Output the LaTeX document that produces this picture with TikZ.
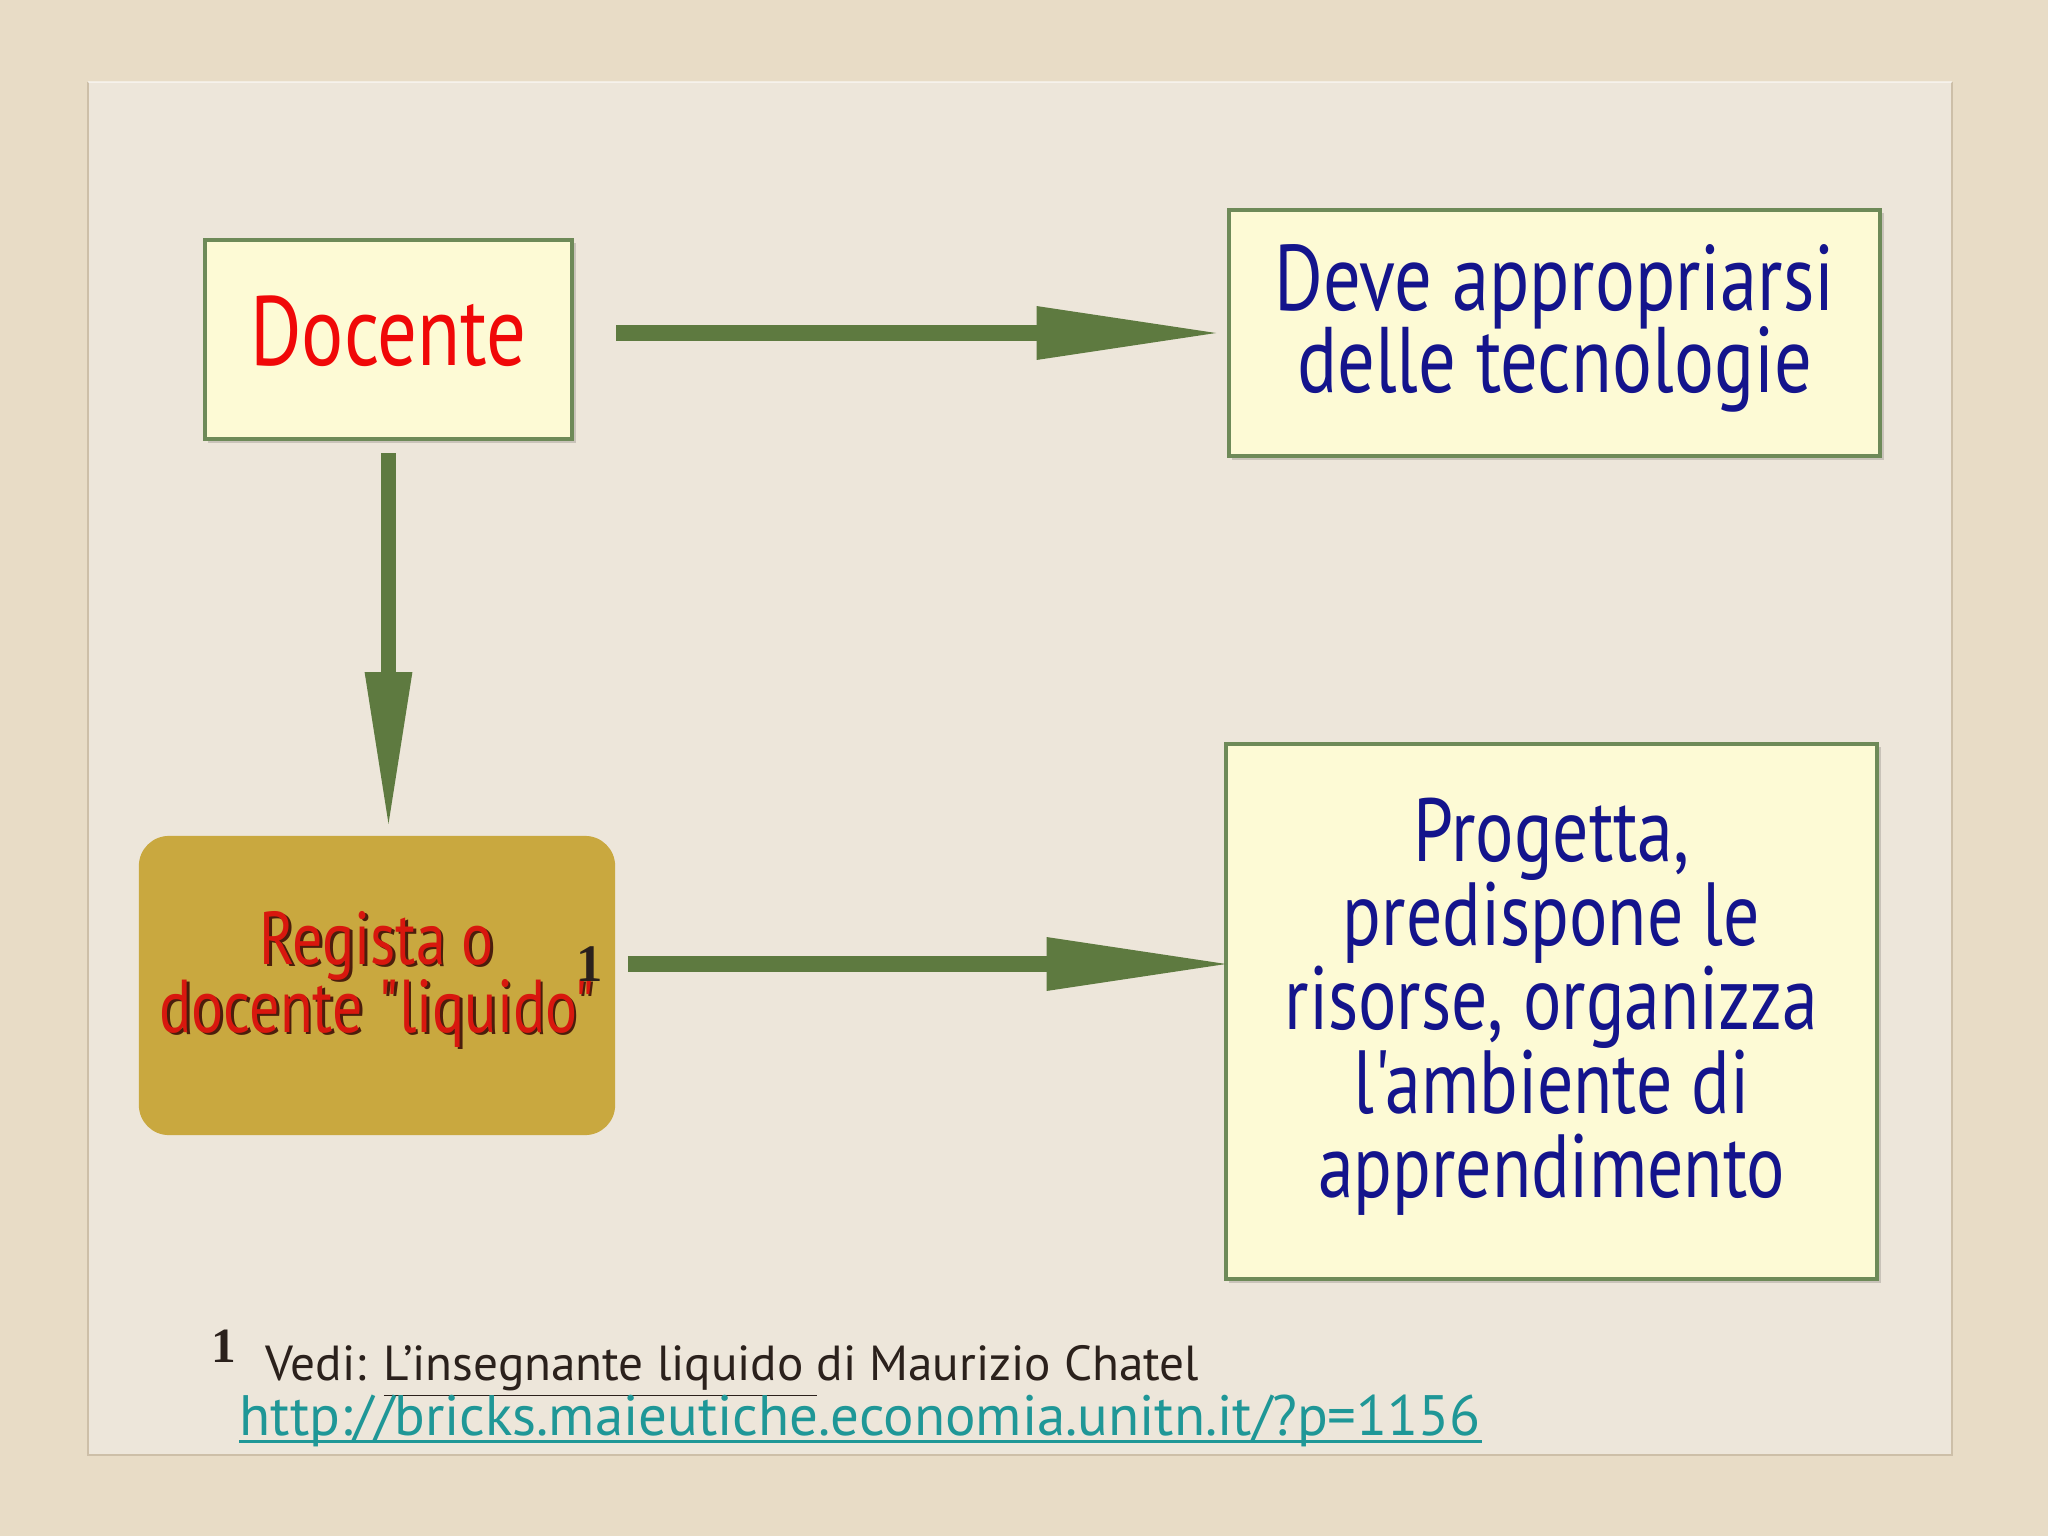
\documentclass[tikz,border=0pt]{standalone}
\usepackage{fontspec}
\usetikzlibrary{arrows.meta,calc,shadows}
\newfontfamily\pap[FakeStretch=0.8]{PT Sans}
\newfontfamily\papw{PT Sans}
\newfontfamily\numf{Liberation Serif}
\newcommand\tightls{\lineskiplimit=-100pt\relax}
\newcommand\shd[1]{\rlap{\kern0.75pt\raisebox{-0.75pt}{\color{shadowbrown}#1}}#1}
\newcommand\supone{\rlap{\kern-5.2pt\raisebox{14.5pt}{\numf\bfseries\fontsize{15}{16}\selectfont\color{fntxt}1}}}
\definecolor{bgout}{HTML}{E8DCC6}
\definecolor{bgin}{HTML}{EDE6DA}
\definecolor{edgec}{HTML}{CDBFA8}
\definecolor{boxfill}{HTML}{FDFAD5}
\definecolor{boxline}{HTML}{6E8A58}
\definecolor{arrgreen}{HTML}{5E7A40}
\definecolor{gold}{HTML}{C9A83F}
\definecolor{navy}{HTML}{14148C}
\definecolor{redtxt}{HTML}{F00808}
\definecolor{regred}{HTML}{D8170E}
\definecolor{shadowbrown}{HTML}{4A1E0C}
\definecolor{fntxt}{HTML}{2B211C}
\definecolor{tealc}{HTML}{1F9797}
\tikzset{
  ybox/.style={draw=boxline, line width=0.04cm, fill=boxfill, inner sep=0pt,
    drop shadow={shadow xshift=0.035cm, shadow yshift=-0.035cm, opacity=0.15, fill=black}},
  gbox/.style={fill=gold, rounded corners=0.3cm, inner sep=0pt},
  bigarrow/.style={draw=arrgreen, line width=0.16cm, -{Triangle[length=1.87cm,width=0.49cm]}},
  downarrow/.style={draw=arrgreen, line width=0.155cm, -{Triangle[length=1.6cm,width=0.43cm]}},
  bluetext/.style={text=navy, align=center, inner sep=0pt},
  regtext/.style={align=center, inner sep=0pt, font={\pap\fontsize{21.3}{19.35}\selectfont\tightls}},
  fnnum/.style={text=fntxt, inner sep=0pt, anchor=base west, font={\numf\bfseries\fontsize{14}{16}\selectfont}},
}
\begin{document}
\begin{tikzpicture}[x=0.01cm,y=-0.01cm]
\useasboundingbox (0,0) rectangle (2048,1536);
\fill[bgout] (0,0) rectangle (2048,1536);
\fill[bgin] (88,82) rectangle (1952,1455);
\draw[edgec, line width=0.025cm] (88,82) -- (88,1455) -- (1952,1455) -- (1952,82);
\draw[white, opacity=0.5, line width=0.02cm] (88,82) -- (1952,82);

% boxes
\node[ybox, minimum width=3.67cm, minimum height=1.99cm] (docente) at (388.5,339.5) {};
\node[ybox, minimum width=6.51cm, minimum height=2.46cm] (deve) at (1554.5,333) {};
\node[ybox, minimum width=6.51cm, minimum height=5.35cm] (progetta) at (1551.5,1011.5) {};
\node[gbox, minimum width=4.76cm, minimum height=2.99cm] (regista) at (377,985.5) {};

% texts
\node[inner sep=0pt, text=redtxt, font={\pap\fontsize{28}{30}\selectfont}] (tdoc) at ([yshift=0.085cm]docente.center) {Docente};
\node[bluetext, font={\pap\fontsize{26.5}{23.3}\selectfont\tightls}] (tdeve) at ([yshift=0.05cm]deve.center) {Deve appropriarsi\\delle tecnologie};
\node[bluetext, font={\pap\fontsize{25.5}{23.9}\selectfont\tightls}] (tprog) at ([yshift=0.05cm]progetta.center) {Progetta,\\predispone le\\risorse, organizza\\l'ambiente di\\apprendimento};
\node[regtext, text=regred] (treg) at ([yshift=0.05cm]regista.center) {\shd{Regista o}\\\shd{docente "liquido"}\supone};

% arrows
\draw[bigarrow, shorten <=0.42cm, shorten >=0.03cm] (docente.east |- deve.west) -- (deve.west);
\draw[downarrow, shorten <=0.12cm, shorten >=0.03cm] (docente.south) -- (docente.south |- regista.north);
\draw[bigarrow, shorten <=0.12cm, shorten >=-0.1cm] ([yshift=0.215cm]regista.east) -- ([yshift=0.215cm]regista.east -| progetta.west);

% footnote
\node[fnnum] (fn1) at (211,1362) {1};
\node[inner sep=0pt, anchor=base west, text=fntxt, font={\papw\fontsize{14}{16}\selectfont}] (fntext) at (265,1380) {Vedi: \underline{L’insegnante liquido\ }di Maurizio Chatel};
\node[inner sep=0pt, anchor=base west, text=tealc, font={\papw\fontsize{16.2}{18}\selectfont}] (url) at (239,1435) {http://bricks.maieutiche.economia.unitn.it/?p=1156};
\draw[tealc, line width=0.03cm] ([yshift=-0.06cm]url.base west) -- ([yshift=-0.06cm]url.base east);
\end{tikzpicture}
\end{document}
